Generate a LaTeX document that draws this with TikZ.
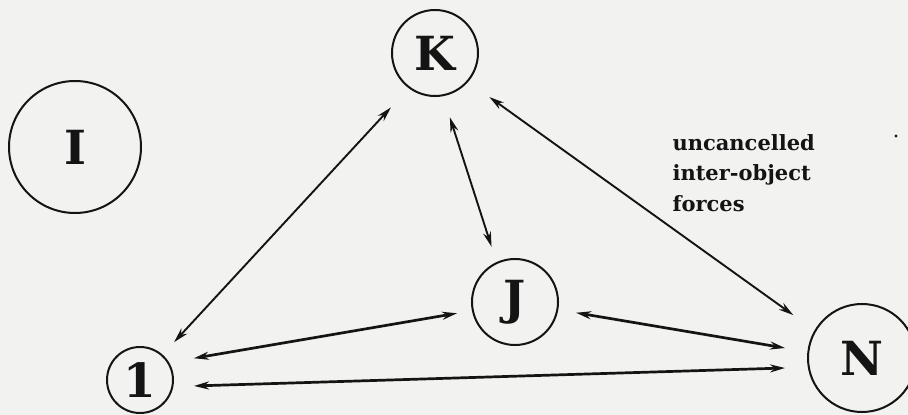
\documentclass[tikz,border=0pt]{standalone}
\usepackage{fontspec}
\setmainfont{DejaVu Serif}
\usetikzlibrary{arrows.meta,calc}
\definecolor{paper}{RGB}{242,242,240}
\definecolor{ink}{RGB}{20,20,20}
\tikzset{
  body/.style={draw=ink, circle, line width=2pt, inner sep=0pt, font=\bfseries\fontsize{47}{47}\selectfont, text=ink},
  force/.style={draw=ink, line width=1.9pt, {Stealth[length=15pt,width=8pt]}-{Stealth[length=15pt,width=8pt]}},
  heavyforce/.style={force, line width=2.7pt}
}
\begin{document}
\begin{tikzpicture}[x=1pt,y=1pt]
\fill[paper] (0,0) rectangle (908,415);
\useasboundingbox (0,0) rectangle (908,415);

\node[body, minimum size=86pt] (K) at (435,362) {K};
\node[body, minimum size=132pt] (I) at (75,268) {I};
\node[body, minimum size=66pt] (one) at (140,35) {1};
\node[body, minimum size=86pt] (J) at (515,113) {J};
\node[body, minimum size=108pt] (N) at (862,57) {N};

\node[anchor=west, align=left, text=ink, font=\bfseries\fontsize{21}{30.5}\selectfont] (lab) at (669,242) {uncancelled\\inter-object\\forces};
\fill[ink] (896,279) circle (1.6pt) coordinate (dot);

\draw[force] ($(one)+(48:51pt)$) -- ($(K)+(231:70pt)$);
\draw[force] ($(K)+(283:66pt)$) -- ($(J)+(113:60pt)$);
\draw[force] ($(K)+(321:70pt)$) -- ($(N)+(148:81pt)$);
\draw[heavyforce] ($(one)+(22:58pt)$) -- ($(J)+(191:59pt)$);
\draw[heavyforce] ($(J)+(350:62pt)$) -- ($(N)+(172.6:77.6pt)$);
\draw[heavyforce] ($(one)+(353.7:54.3pt)$) -- ($(N)+(187.4:77.6pt)$);
\end{tikzpicture}
\end{document}
